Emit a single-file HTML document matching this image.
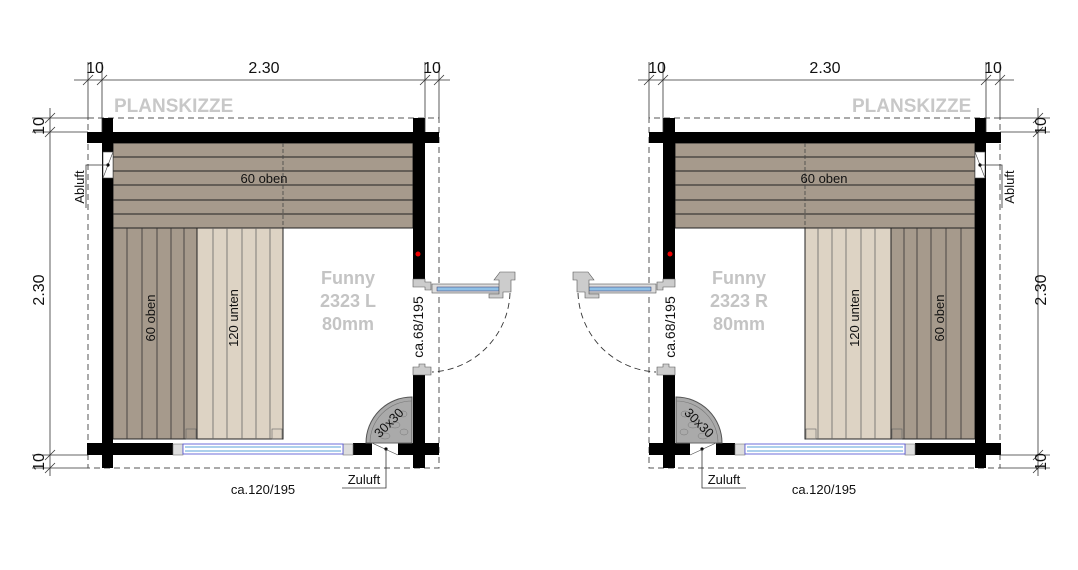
<!DOCTYPE html>
<html><head><meta charset="utf-8"><style>
html,body{margin:0;padding:0;background:#fff;}
svg{display:block;}
text{font-family:"Liberation Sans",sans-serif;}
</style></head><body>
<svg width="1078" height="570" viewBox="0 0 1078 570" xmlns="http://www.w3.org/2000/svg">
<defs>
<g id="room">
  <rect x="88" y="118" width="351" height="350" fill="none" stroke="#555" stroke-width="1" stroke-dasharray="6,4"/>
  <rect x="113" y="143" width="300" height="85" fill="#a69a8c" stroke="#222" stroke-width="1"/>
  <g stroke="#222" stroke-width="0.9">
    <line x1="113" y1="157" x2="413" y2="157"/><line x1="113" y1="171" x2="413" y2="171"/>
    <line x1="113" y1="185" x2="413" y2="185"/><line x1="113" y1="200" x2="413" y2="200"/>
    <line x1="113" y1="214" x2="413" y2="214"/>
  </g>
  <line x1="283" y1="143" x2="283" y2="228" stroke="#444" stroke-width="0.8" stroke-dasharray="4,2"/>
  <rect x="113" y="228" width="84" height="211" fill="#a69a8c" stroke="#222" stroke-width="1"/>
  <g stroke="#333" stroke-width="0.8">
    <line x1="127" y1="228" x2="127" y2="439"/><line x1="142" y1="228" x2="142" y2="439"/>
    <line x1="157" y1="228" x2="157" y2="439"/><line x1="171" y1="228" x2="171" y2="439"/>
    <line x1="184" y1="228" x2="184" y2="439"/>
  </g>
  <rect x="197" y="228" width="86" height="211" fill="#ddd3c4" stroke="#222" stroke-width="1"/>
  <g stroke="#666" stroke-width="0.8">
    <line x1="213" y1="228" x2="213" y2="439"/><line x1="227" y1="228" x2="227" y2="439"/>
    <line x1="242" y1="228" x2="242" y2="439"/><line x1="256" y1="228" x2="256" y2="439"/>
    <line x1="270" y1="228" x2="270" y2="439"/>
  </g>
  <rect x="186" y="429" width="10" height="10" fill="none" stroke="#666" stroke-width="0.6"/>
  <rect x="272" y="429" width="10" height="10" fill="none" stroke="#666" stroke-width="0.6"/>
  <rect x="87" y="132" width="352" height="11" fill="#000"/>
  <rect x="102" y="118" width="11" height="350" fill="#000"/>
  <rect x="413" y="118" width="12" height="162" fill="#000"/>
  <rect x="413" y="375" width="12" height="93" fill="#000"/>
  <rect x="87" y="443" width="86" height="12" fill="#000"/>
  <rect x="353" y="443" width="19" height="12" fill="#000"/>
  <rect x="398" y="443" width="41" height="12" fill="#000"/>
  <rect x="103" y="152" width="10" height="26" fill="#fff" stroke="#444" stroke-width="0.6"/>
  <line x1="103" y1="178" x2="113" y2="152" stroke="#444" stroke-width="0.6"/>
  <circle cx="108" cy="165" r="1.6" fill="#000"/>
  <polyline points="108,165 86,165 86,208" fill="none" stroke="#333" stroke-width="0.8"/>
  <rect x="173" y="444" width="10" height="11" fill="#ddd" stroke="#777" stroke-width="0.6"/>
  <rect x="343" y="444" width="10" height="11" fill="#ddd" stroke="#777" stroke-width="0.6"/>
  <rect x="183" y="444" width="160" height="10" fill="#fff" stroke="#4a4ad0" stroke-width="0.8"/>
  <line x1="185" y1="447" x2="341" y2="447" stroke="#7ab4e0" stroke-width="1.2"/>
  <line x1="185" y1="451" x2="341" y2="451" stroke="#7ab4e0" stroke-width="1.2"/>
  <rect x="372" y="443" width="26" height="12" fill="#fff"/>
  <line x1="372" y1="443" x2="398" y2="455" stroke="#444" stroke-width="0.6"/>
  <circle cx="386" cy="449" r="1.6" fill="#000"/>
  <polyline points="386,449 386,488 342,488" fill="none" stroke="#333" stroke-width="0.8"/>
  <path d="M412,443 L366,443 A46,46 0 0 1 412,397 Z" fill="#aaa" stroke="#555" stroke-width="1"/>
  <path d="M412,443 L370,443 A42,42 0 0 1 412,401" fill="none" stroke="#777" stroke-width="0.6"/>
  <g fill="none" stroke="#777" stroke-width="0.5">
    <ellipse cx="395" cy="425" rx="5" ry="3"/><ellipse cx="404" cy="432" rx="4" ry="3"/>
    <ellipse cx="385" cy="436" rx="5" ry="3"/><ellipse cx="403" cy="414" rx="4" ry="3"/>
  </g>
  <circle cx="418" cy="254" r="2.5" fill="#e00"/>
  <path d="M413,279 h12 v3 h6 v8 h-6 v-3 h-12 z" fill="#ccc" stroke="#555" stroke-width="0.6"/>
  <path d="M413,367 h6 v-3 h6 v3 h6 v8 h-18 z" fill="#ccc" stroke="#555" stroke-width="0.6"/>
  <rect x="432" y="284" width="70" height="9" fill="#ddd" stroke="#555" stroke-width="0.6"/>
  <rect x="437" y="287" width="62" height="4" fill="#8fc0e6" stroke="#336" stroke-width="0.5"/>
  <path d="M500,272 h15 v8 h-4 v12 h-8 v6 h-14 v-4 h10 v-14 h-5 z" fill="#ccc" stroke="#555" stroke-width="0.6"/>
  <path d="M510,293 A82,82 0 0 1 432,372" fill="none" stroke="#333" stroke-width="0.9" stroke-dasharray="6,4"/>
</g>
</defs>

<use href="#room"/>
<use href="#room" transform="translate(1088,0) scale(-1,1)"/>

<g stroke="#333" stroke-width="0.8" fill="none">
  <line x1="74" y1="80" x2="450" y2="80"/>
  <line x1="88" y1="62" x2="88" y2="118"/><line x1="102" y1="62" x2="102" y2="132"/>
  <line x1="425" y1="62" x2="425" y2="132"/><line x1="439" y1="62" x2="439" y2="118"/>
  <line x1="83" y1="85" x2="93" y2="75"/><line x1="97" y1="85" x2="107" y2="75"/>
  <line x1="420" y1="85" x2="430" y2="75"/><line x1="434" y1="85" x2="444" y2="75"/>
  <line x1="50" y1="108" x2="50" y2="476"/>
  <line x1="32" y1="118" x2="88" y2="118"/><line x1="32" y1="132" x2="88" y2="132"/>
  <line x1="32" y1="455" x2="88" y2="455"/><line x1="32" y1="468" x2="88" y2="468"/>
  <line x1="45" y1="123" x2="55" y2="113"/><line x1="45" y1="137" x2="55" y2="127"/>
  <line x1="45" y1="460" x2="55" y2="450"/><line x1="45" y1="473" x2="55" y2="463"/>
</g>
<g stroke="#333" stroke-width="0.8" fill="none">
  <line x1="638" y1="80" x2="1014" y2="80"/>
  <line x1="649" y1="62" x2="649" y2="118"/><line x1="663" y1="62" x2="663" y2="132"/>
  <line x1="986" y1="62" x2="986" y2="132"/><line x1="1000" y1="62" x2="1000" y2="118"/>
  <line x1="644" y1="85" x2="654" y2="75"/><line x1="658" y1="85" x2="668" y2="75"/>
  <line x1="981" y1="85" x2="991" y2="75"/><line x1="995" y1="85" x2="1005" y2="75"/>
  <line x1="1038" y1="108" x2="1038" y2="476"/>
  <line x1="1000" y1="118" x2="1050" y2="118"/><line x1="1000" y1="132" x2="1050" y2="132"/>
  <line x1="1000" y1="455" x2="1050" y2="455"/><line x1="1000" y1="468" x2="1050" y2="468"/>
  <line x1="1033" y1="123" x2="1043" y2="113"/><line x1="1033" y1="137" x2="1043" y2="127"/>
  <line x1="1033" y1="460" x2="1043" y2="450"/><line x1="1033" y1="473" x2="1043" y2="463"/>
</g>

<g font-size="16" fill="#111" text-anchor="middle">
  <text x="264" y="73">2.30</text>
  <text x="95" y="73">10</text>
  <text x="432" y="73">10</text>
  <text x="825" y="73">2.30</text>
  <text x="657" y="73">10</text>
  <text x="993" y="73">10</text>
  <text transform="translate(44,290) rotate(-90)">2.30</text>
  <text transform="translate(44,126) rotate(-90)">10</text>
  <text transform="translate(44,462) rotate(-90)">10</text>
  <text transform="translate(1046,290) rotate(-90)">2.30</text>
  <text transform="translate(1046,126) rotate(-90)">10</text>
  <text transform="translate(1046,462) rotate(-90)">10</text>
</g>
<g font-size="19" font-weight="bold" fill="#c8c8c8">
  <text x="114" y="112">PLANSKIZZE</text>
  <text x="852" y="112">PLANSKIZZE</text>
</g>
<g font-size="18" font-weight="bold" fill="#c4c4c4" text-anchor="middle">
  <text x="348" y="284">Funny</text><text x="348" y="307">2323 L</text><text x="348" y="330">80mm</text>
  <text x="739" y="284">Funny</text><text x="739" y="307">2323 R</text><text x="739" y="330">80mm</text>
</g>
<g font-size="13" fill="#111" text-anchor="middle">
  <text x="264" y="183">60 oben</text>
  <text x="824" y="183">60 oben</text>
  <text transform="translate(155,318) rotate(-90)">60 oben</text>
  <text transform="translate(238,318) rotate(-90)">120 unten</text>
  <text transform="translate(859,318) rotate(-90)">120 unten</text>
  <text transform="translate(944,318) rotate(-90)">60 oben</text>
  <text x="263" y="494">ca.120/195</text>
  <text x="824" y="494">ca.120/195</text>
  <text x="364" y="484">Zuluft</text>
  <text x="724" y="484">Zuluft</text>
  <text transform="translate(84,187) rotate(-90)">Abluft</text>
  <text transform="translate(1014,187) rotate(-90)">Abluft</text>
  <text transform="translate(423,327) rotate(-90)" font-size="14">ca.68/195</text>
  <text transform="translate(675,327) rotate(-90)" font-size="14">ca.68/195</text>
  <text transform="translate(392,426) rotate(-45)">30x30</text>
  <text transform="translate(696,426) rotate(45)">30x30</text>
</g>
</svg>
</body></html>
